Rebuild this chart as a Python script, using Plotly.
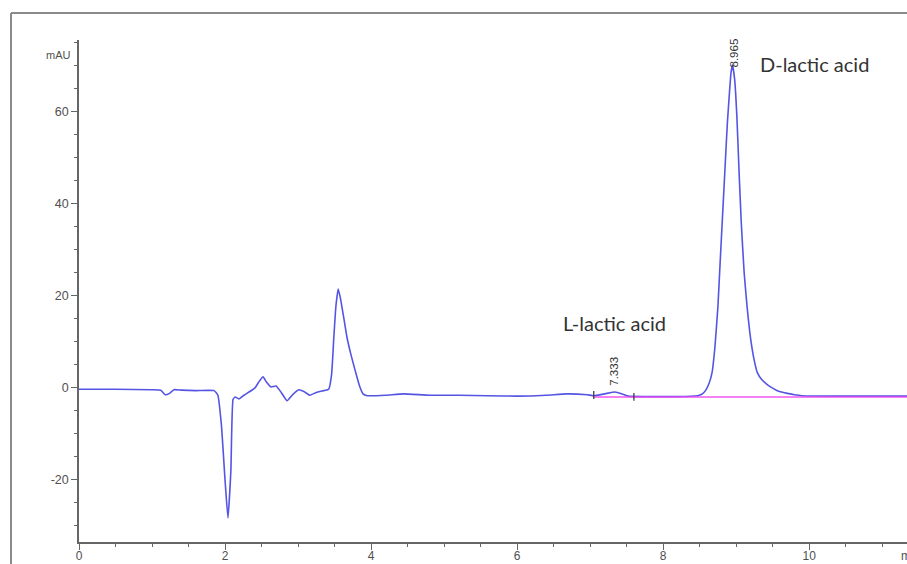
import plotly.graph_objects as go

# Chromatogram signal (time in min, signal in mAU)
time_min = [0.00, 0.50, 1.00, 1.12, 1.18, 1.24, 1.30, 1.40, 1.60, 1.85,
            1.90, 1.95, 2.00, 2.04, 2.08, 2.11, 2.14, 2.19, 2.26, 2.34,
            2.41, 2.46, 2.52, 2.57, 2.63, 2.70, 2.77, 2.85, 2.93, 3.01,
            3.08, 3.16, 3.25, 3.35, 3.42, 3.46, 3.49, 3.52, 3.55, 3.58,
            3.62, 3.67, 3.72, 3.78, 3.84, 3.89, 3.95, 4.20, 4.44, 4.80,
            5.20, 5.60, 6.00, 6.40, 6.68, 6.96, 7.05, 7.20, 7.34, 7.45,
            7.52, 7.80, 8.20, 8.47, 8.53, 8.58, 8.63, 8.67, 8.71, 8.75,
            8.78, 8.82, 8.85, 8.88, 8.91, 8.93, 8.95, 8.98, 9.01, 9.04,
            9.07, 9.11, 9.15, 9.20, 9.25, 9.29, 9.35, 9.41, 9.47, 9.55,
            9.62, 9.70, 9.80, 9.90, 10.50, 11.34]
signal_mau = [-0.3, -0.3, -0.4, -0.5, -1.5, -1.2, -0.4, -0.5, -0.6, -0.6,
              -1.5, -8.0, -20.0, -28.3, -18.0, -2.5, -2.0, -2.4, -1.6, -0.8,
              0.0, 1.2, 2.4, 1.2, 0.2, 0.4, -1.0, -2.8, -1.4, -0.4,
              -0.8, -1.6, -1.0, -0.6, -0.3, 3.0, 11.0, 18.0, 21.5, 19.5,
              15.8, 11.0, 7.5, 3.9, 0.5, -1.3, -1.7, -1.6, -1.3, -1.6,
              -1.6, -1.7, -1.8, -1.6, -1.3, -1.5, -1.7, -1.3, -0.9, -1.4,
              -1.8, -1.9, -1.9, -1.7, -1.4, -0.6, 1.0, 3.3, 9.0, 17.6,
              27.0, 39.3, 48.5, 57.6, 64.5, 68.5, 70.2, 67.0, 59.0, 47.0,
              36.0, 25.0, 17.6, 10.5, 5.8, 3.3, 1.8, 0.9, 0.2, -0.5,
              -0.9, -1.2, -1.5, -1.7, -1.8, -1.8]

# Integration baseline
baseline_x = [7.05, 11.34]
baseline_y = [-2.0, -2.0]

# Integration markers (time, low, high)
marker_t = [7.05, 7.60]
marker_lo = [-2.4, -2.8]
marker_hi = [-0.7, -1.1]

# Peak labels
peak_rt = [7.333, 8.965]
peak_label_y = [3.6, 72.8]
peak_names = ["L-lactic acid", "D-lactic acid"]
name_x = [7.34, 10.07]
name_y = [14.1, 70.4]

x_ticks = [0, 2, 4, 6, 8, 10]
y_ticks = [-20, 0, 20, 40, 60]

axis_col = "#666666"
text_col = "#505050"

fig = go.Figure()

fig.add_trace(go.Scatter(
    x=time_min, y=signal_mau, mode="lines",
    line=dict(color="rgb(85,85,228)", width=1.6, shape="spline", smoothing=0.4),
    showlegend=False, hoverinfo="x+y"))

fig.add_trace(go.Scatter(
    x=baseline_x, y=baseline_y, mode="lines",
    line=dict(color="rgba(240,70,240,0.9)", width=1.6),
    showlegend=False))

for t, lo, hi in zip(marker_t, marker_lo, marker_hi):
    fig.add_trace(go.Scatter(
        x=[t, t], y=[lo, hi], mode="lines",
        line=dict(color="#333333", width=1.2),
        showlegend=False))

for rt, ly in zip(peak_rt, peak_label_y):
    fig.add_annotation(x=rt, y=ly, text=f"{rt:.3f}", showarrow=False,
                       textangle=-90, font=dict(family="Liberation Sans", size=11.5, color="#333333"))

for nm, nx, ny in zip(peak_names, name_x, name_y):
    fig.add_annotation(x=nx, y=ny, text=nm, showarrow=False,
                       font=dict(family="Lato", size=20, color="#333333"))

fig.add_annotation(xref="paper", yref="paper", x=-0.042, y=0.986, text="mAU",
                   showarrow=False, font=dict(family="Liberation Sans", size=11, color=text_col))
fig.add_annotation(xref="paper", yref="paper", x=0.9903, y=-0.045, text="min",
                   xanchor="left", showarrow=False,
                   font=dict(family="Liberation Sans", size=12, color=text_col))

# outer frame (top and left edges visible)
fig.add_shape(type="line", xref="paper", yref="paper", x0=-0.0821, x1=1.02, y0=1.0538, y1=1.0538,
              line=dict(color="#8a8a8a", width=2))
fig.add_shape(type="line", xref="paper", yref="paper", x0=-0.0821, x1=-0.0821, y0=1.0538, y1=-0.1,
              line=dict(color="#8a8a8a", width=2))

fig.update_xaxes(range=[0, 11.34], tickvals=x_ticks, ticktext=[str(v) for v in x_ticks],
                 automargin=False, ticklabelstandoff=-4,
                 showline=True, linecolor=axis_col, linewidth=1.5, mirror=False,
                 ticks="outside", ticklen=6, tickcolor=axis_col, tickwidth=1,
                 minor=dict(dtick=0.5, tick0=0, ticks="outside", ticklen=3, tickcolor=axis_col),
                 showgrid=False, zeroline=False,
                 tickfont=dict(family="Liberation Sans", size=12, color=text_col))
fig.update_yaxes(range=[-33.5, 75.6], tickvals=y_ticks, ticktext=[str(v) for v in y_ticks],
                 automargin=False,
                 showline=True, linecolor=axis_col, linewidth=1.5,
                 ticks="outside", ticklen=6, tickcolor=axis_col, tickwidth=1,
                 minor=dict(dtick=5, tick0=0, ticks="outside", ticklen=3, tickcolor=axis_col),
                 showgrid=False, zeroline=False,
                 tickfont=dict(family="Liberation Sans", size=12.5, color=text_col))

fig.update_layout(width=907, height=564, margin=dict(l=79, r=0, t=40, b=22, autoexpand=False),
                  plot_bgcolor="white", paper_bgcolor="white", showlegend=False)

fig.write_html("out.html", config={"displayModeBar": False},
               post_script="document.body.style.margin='0';document.body.style.overflow='hidden';")
